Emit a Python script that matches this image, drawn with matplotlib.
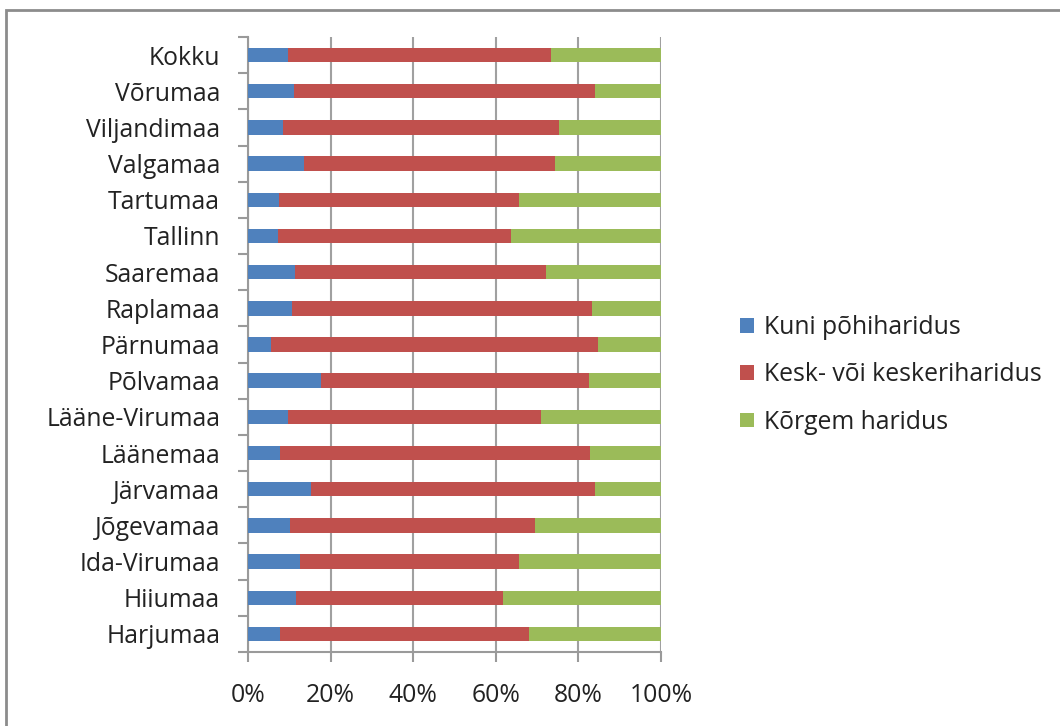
import matplotlib
matplotlib.use("Agg")
import matplotlib.pyplot as plt
from matplotlib.patches import Rectangle
import numpy as np

plt.rcParams['font.family'] = ['Open Sans', 'DejaVu Sans']

categories = ["Harjumaa", "Hiiumaa", "Ida-Virumaa", "Jõgevamaa", "Järvamaa", "Läänemaa",
              "Lääne-Virumaa", "Põlvamaa", "Pärnumaa", "Raplamaa", "Saaremaa", "Tallinn",
              "Tartumaa", "Valgamaa", "Viljandimaa", "Võrumaa", "Kokku"]
kuni_pohi = [7.8, 11.6, 12.6, 10.2, 15.3, 7.8, 9.6, 17.6, 5.5, 10.6, 11.5, 7.2, 7.6, 13.5, 8.5, 11.2, 9.6]
kesk = [60.3, 50.1, 53.1, 59.2, 68.6, 75.0, 61.4, 64.9, 79.3, 72.6, 60.6, 56.5, 58.1, 60.9, 66.9, 72.7, 63.8]
korgem = [100 - a - b for a, b in zip(kuni_pohi, kesk)]
series_names = ["Kuni põhiharidus", "Kesk- või keskeriharidus", "Kõrgem haridus"]
colors = ["#4F81BD", "#C0504D", "#9BBB59"]
xticklabels = ["0%", "20%", "40%", "60%", "80%", "100%"]

W, H = 1060, 726
fig = plt.figure(figsize=(W / 100, H / 100), dpi=100)
ax = fig.add_axes([248 / W, 1 - 652 / H, (661 - 248) / W, (652 - 37) / H])

y = np.arange(len(categories))
left = np.zeros(len(categories))
for vals, name, c in zip([kuni_pohi, kesk, korgem], series_names, colors):
    v = np.array(vals) / 100
    ax.barh(y, v, left=left, height=0.4, color=c, label=name, zorder=3)
    left += v

tc = '#222222'
fs = 17.8
ax.set_xlim(0, 1)
ax.set_ylim(-0.5, len(categories) - 0.5)
ax.set_xticks(np.linspace(0, 1, 6))
ax.set_xticklabels(xticklabels, fontsize=fs, color=tc)
ax.set_yticks(y)
ax.set_yticklabels(categories, fontsize=fs, color=tc)
ax.set_yticks(np.arange(-0.5, len(categories), 1), minor=True)
ax.tick_params(axis='y', which='major', length=0, pad=20)
ax.tick_params(axis='y', which='minor', length=7, width=1.5, color='#9a9a9a', direction='out')
ax.tick_params(axis='x', which='major', length=7, width=1.5, color='#9a9a9a', direction='out', pad=15)
ax.xaxis.grid(True, color='#a0a0a0', linewidth=1.5, zorder=0)
for s in ['top', 'right']:
    ax.spines[s].set_visible(False)
for s in ['left', 'bottom']:
    ax.spines[s].set_color('#9a9a9a')
    ax.spines[s].set_linewidth(1.5)

leg = fig.legend(loc='center left', bbox_to_anchor=(718 / W, 1 - 375 / H), frameon=False,
                 fontsize=fs, handlelength=0.55, handleheight=0.55, labelspacing=0.9,
                 handletextpad=0.4, labelcolor=tc)

# figure border
fig.patches.append(Rectangle((6 / W, -0.01), 1.1, 1 - 10 / H + 0.01, transform=fig.transFigure,
                             fill=False, edgecolor='#8c8c8c', linewidth=2))

fig.savefig("out.png", dpi=100)
